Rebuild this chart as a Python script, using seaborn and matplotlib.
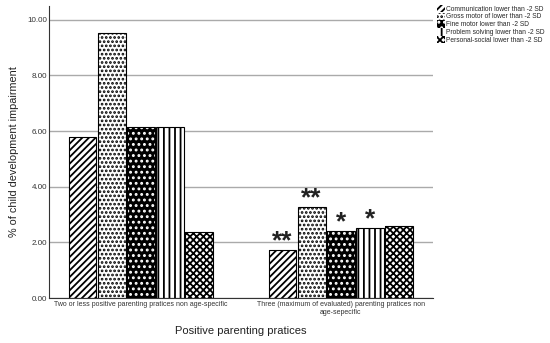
import pandas as pd
import matplotlib.pyplot as plt
import seaborn as sns
from matplotlib.patches import Rectangle

# categories / series
groups = ["Two or less positive parenting pratices non age-specific",
          "Three (maximum of evaluated) parenting pratices non\nage-sepecific"]
domains = ["Communication lower than -2 SD",
           "Gross motor of lower than -2 SD",
           "Fine motor lower than -2 SD",
           "Problem solving lower than -2 SD",
           "Personal-social lower than -2 SD"]
communication = [5.79, 1.73]
gross_motor = [9.52, 3.28]
fine_motor = [6.13, 2.41]
problem_solving = [6.13, 2.52]
personal_social = [2.37, 2.58]
stars = [["", "**"], ["", "**"], ["", "*"], ["", "*"], ["", ""]]

hatches = ["/////", "....", "...", "|||", "xxxxx"]
faces = ["white", "white", "black", "white", "white"]
hatch_cols = ["black", "black", "white", "black", "black"]

series = [communication, gross_motor, fine_motor, problem_solving, personal_social]
rows = []
for d, vals in zip(domains, series):
    for g, v in zip(groups, vals):
        rows.append({"group": g, "domain": d, "value": v})
df = pd.DataFrame(rows)

sns.set_style("white")
plt.rcParams["font.family"] = ["Liberation Sans", "DejaVu Sans"]
plt.rcParams["hatch.linewidth"] = 1.3

fig = plt.figure(figsize=(5.5, 3.43), dpi=100)
ax = fig.add_axes([0.089, 0.131, 0.698, 0.852])

sns.barplot(data=df, x="group", y="value", hue="domain", order=groups,
            hue_order=domains, width=0.73, gap=0.05, ax=ax, legend=False)

for i, cont in enumerate(ax.containers):
    for j, bar in enumerate(cont):
        bar.set_facecolor(faces[i])
        bar.set_edgecolor(hatch_cols[i])
        bar.set_hatch(hatches[i])
        bar.set_linewidth(0)
        ax.add_patch(Rectangle(bar.get_xy(), bar.get_width(), bar.get_height(),
                               fill=False, edgecolor="black", linewidth=0.8, zorder=3))
        if stars[i][j]:
            ax.text(bar.get_x() + bar.get_width() / 2, bar.get_height() - 0.12,
                    stars[i][j], ha="center", va="bottom", fontsize=19,
                    fontweight="bold", color="#222222")

ax.set_ylim(0, 10.5)
ax.set_xlim(-0.46, 1.46)
ax.set_yticks([0, 2, 4, 6, 8, 10])
ax.set_yticklabels([f"{t:.2f}" for t in [0, 2, 4, 6, 8, 10]], fontsize=5.8, color="#333333")
ax.tick_params(axis="x", labelsize=5, length=0, pad=2, labelcolor="#333333")
ax.tick_params(axis="y", length=0, pad=1)
ax.yaxis.grid(True, color="#aaaaaa", linewidth=1.0)
ax.set_axisbelow(True)
for s in ["top", "right"]:
    ax.spines[s].set_visible(False)
for s in ["left", "bottom"]:
    ax.spines[s].set_color("#333333")
    ax.spines[s].set_linewidth(0.8)

ax.set_ylabel("% of child development impairment", fontsize=7.8, color="#222222", labelpad=6)
ax.set_xlabel("Positive parenting pratices", fontsize=8, color="#222222", labelpad=7)

handles = [plt.Rectangle((0, 0), 1, 1, facecolor=faces[i], edgecolor=hatch_cols[i],
                         hatch=hatches[i], linewidth=0) for i in range(len(domains))]
fig.legend(handles, domains, loc="upper left", bbox_to_anchor=(0.792, 0.99),
           frameon=False, fontsize=4.8, handlelength=1.2, handleheight=1.3,
           handletextpad=0.2, labelspacing=0.0, borderaxespad=0, borderpad=0.2)

fig.savefig("out.png", dpi=100)
